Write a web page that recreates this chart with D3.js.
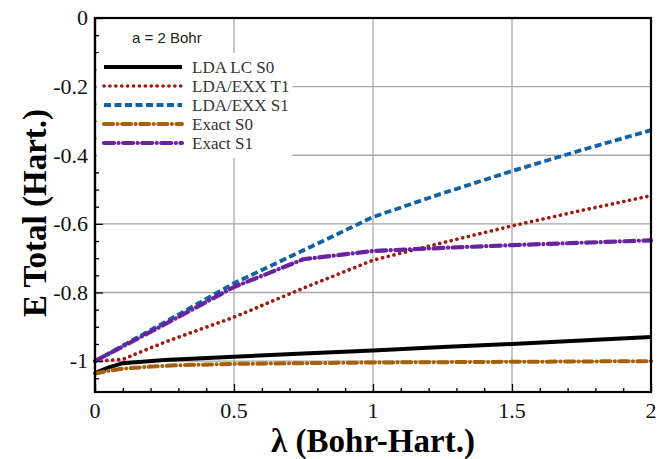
<!DOCTYPE html>
<html>
<head>
<meta charset="utf-8">
<script src="https://cdn.jsdelivr.net/npm/d3@7"></script>
<style>
    body { margin: 0; background: #fff; }
    svg { display: block; }
</style>
</head>
<body>
<svg id="chart" width="668" height="459"></svg>
<script>
"use strict";

// lambda (Bohr-Hart.) sample points
const lambdaLC = [0, 0.05, 0.1, 0.25, 0.5, 0.75, 1, 1.25, 1.5, 1.75, 2];
const ldaLcS0 = [-1.035, -1.018, -1.006, -0.997, -0.987, -0.978, -0.969, -0.959, -0.950, -0.940, -0.930];

const lambdaT1 = [0, 0.1, 0.15, 0.25, 0.5, 0.75, 1, 1.25, 1.5, 1.75, 2];
const ldaExxT1 = [-1.0, -0.995, -0.978, -0.945, -0.872, -0.787, -0.706, -0.655, -0.606, -0.561, -0.518];

const lambdaS1 = [0, 0.25, 0.5, 0.75, 1, 1.25, 1.5, 1.75, 2];
const ldaExxS1 = [-1.0, -0.887, -0.773, -0.677, -0.580, -0.511, -0.446, -0.385, -0.327];

const lambdaEx0 = [0, 0.05, 0.1, 0.2, 0.3, 0.5, 0.75, 1, 1.5, 2];
const exactS0 = [-1.036, -1.028, -1.022, -1.016, -1.012, -1.008, -1.006, -1.004, -1.002, -1.0];

const lambdaEx1 = [0, 0.25, 0.5, 0.75, 1, 1.25, 1.5, 1.75, 2];
const exactS1 = [-1.0, -0.893, -0.784, -0.703, -0.679, -0.670, -0.662, -0.655, -0.648];

const xTicks = [0, 0.5, 1, 1.5, 2];
const yTicks = [0, -0.2, -0.4, -0.6, -0.8, -1];

const seriesNames = ["LDA LC S0", "LDA/EXX T1", "LDA/EXX S1", "Exact S0", "Exact S1"];

let series = [
    { name: seriesNames[0], xs: lambdaLC, ys: ldaLcS0, color: "#000000", width: 4, dash: null, cap: "butt" },
    { name: seriesNames[1], xs: lambdaT1, ys: ldaExxT1, color: "#9c1a0e", width: 3.6, dash: "0.1 5.8", cap: "round" },
    { name: seriesNames[2], xs: lambdaS1, ys: ldaExxS1, color: "#0f62a6", width: 3.8, dash: "7 3.5", cap: "butt" },
    { name: seriesNames[3], xs: lambdaEx0, ys: exactS0, color: "#a5600c", width: 4, dash: "9 4.5 0.1 4.5", cap: "round" },
    { name: seriesNames[4], xs: lambdaEx1, ys: exactS1, color: "#6a239f", width: 4.2, dash: "10 4.5 0.1 4.5", cap: "round" }
];

let svg = d3.select("#chart");
let x = d3.scaleLinear().domain([0, 2]).range([95, 651]);
let y = d3.scaleLinear().domain([-1.09, 0]).range([392, 18]);

// plain hyphen for negative numbers, like the original
let fmt = d => String(d);

// grid lines
svg.append("g").selectAll("line.vgrid")
    .data(xTicks.slice(1, -1))
    .enter().append("line")
    .attr("x1", d => x(d)).attr("x2", d => x(d))
    .attr("y1", y.range()[1]).attr("y2", y.range()[0])
    .attr("stroke", "#a8a8a8").attr("stroke-width", 1.3);

svg.append("g").selectAll("line.hgrid")
    .data(yTicks.slice(1))
    .enter().append("line")
    .attr("x1", x.range()[0]).attr("x2", x.range()[1])
    .attr("y1", d => y(d)).attr("y2", d => y(d))
    .attr("stroke", "#a8a8a8").attr("stroke-width", 1.3);

// curves
let line = d3.line();
svg.append("g").selectAll("path.curve")
    .data(series)
    .enter().append("path")
    .attr("d", s => line(s.xs.map((v, i) => [x(v), y(s.ys[i])])))
    .attr("fill", "none")
    .attr("stroke", s => s.color)
    .attr("stroke-width", s => s.width)
    .attr("stroke-dasharray", s => s.dash)
    .attr("stroke-linecap", s => s.cap)
    .attr("stroke-linejoin", "round");

// axes (ticks pointing inward)
let xAxis = d3.axisTop(x).tickValues(d3.range(0, 2.001, 0.1)).tickSize(4).tickFormat("");
let gx = svg.append("g").attr("transform", "translate(0," + y.range()[0] + ")").call(xAxis);
gx.selectAll(".tick line").filter(d => Math.abs(d * 2 - Math.round(d * 2)) < 1e-6).attr("y2", -8);

let yAxis = d3.axisRight(y).tickValues(d3.range(0, -1.0901, -0.05)).tickSize(4).tickFormat("");
let gy = svg.append("g").attr("transform", "translate(" + x.range()[0] + ",0)").call(yAxis);
gy.selectAll(".tick line").filter(d => Math.abs(d * 5 - Math.round(d * 5)) < 1e-6).attr("x2", 8);

[gx, gy].forEach(g => {
    g.select(".domain").remove();
    g.selectAll(".tick line").attr("stroke", "#000").attr("stroke-width", 1.3);
});

// frame
svg.append("rect")
    .attr("x", x.range()[0]).attr("y", y.range()[1])
    .attr("width", x.range()[1] - x.range()[0])
    .attr("height", y.range()[0] - y.range()[1])
    .attr("fill", "none").attr("stroke", "#000").attr("stroke-width", 2.2);

// tick labels
svg.append("g").selectAll("text")
    .data(xTicks)
    .enter().append("text")
    .attr("x", d => x(d)).attr("y", 418)
    .attr("text-anchor", "middle")
    .attr("font-family", "Liberation Serif, Times New Roman, serif")
    .attr("font-size", 22).attr("fill", "#111")
    .text(fmt);

svg.append("g").selectAll("text")
    .data(yTicks)
    .enter().append("text")
    .attr("x", 88).attr("y", d => y(d)).attr("dy", "0.33em")
    .attr("text-anchor", "end")
    .attr("font-family", "Liberation Serif, Times New Roman, serif")
    .attr("font-size", 22).attr("fill", "#111")
    .text(fmt);

// axis titles
svg.append("text")
    .attr("x", 373).attr("y", 452)
    .attr("text-anchor", "middle")
    .attr("font-family", "Liberation Serif, Times New Roman, serif")
    .attr("font-weight", "bold").attr("font-size", 33)
    .text("λ (Bohr-Hart.)");

svg.append("text")
    .attr("transform", "translate(46,213) rotate(-90)")
    .attr("text-anchor", "middle")
    .attr("font-family", "Liberation Serif, Times New Roman, serif")
    .attr("font-weight", "bold").attr("font-size", 33)
    .text("E Total (Hart.)");

// legend
svg.append("text")
    .attr("x", 132).attr("y", 43)
    .attr("font-family", "Liberation Sans, Arial, sans-serif")
    .attr("font-size", 15).attr("fill", "#222")
    .text("a = 2 Bohr");

let legend = svg.append("g");
legend.append("rect")
    .attr("x", 96.5).attr("y", 53).attr("width", 196).attr("height", 105)
    .attr("fill", "#fff");

let rows = legend.selectAll("g.row")
    .data(series)
    .enter().append("g")
    .attr("transform", (d, i) => "translate(0," + (67 + i * 19) + ")");

rows.append("line")
    .attr("x1", 104).attr("x2", 182)
    .attr("stroke", s => s.color)
    .attr("stroke-width", s => s.width)
    .attr("stroke-dasharray", s => s.dash)
    .attr("stroke-linecap", s => s.cap);

rows.append("text")
    .attr("x", 192).attr("dy", "0.35em")
    .attr("font-family", "Liberation Serif, Times New Roman, serif")
    .attr("font-size", 17).attr("fill", "#333")
    .text(s => s.name);

// re-draw left frame edge over legend
svg.append("line")
    .attr("x1", x.range()[0]).attr("x2", x.range()[0])
    .attr("y1", y.range()[1]).attr("y2", y.range()[0])
    .attr("stroke", "#000").attr("stroke-width", 2.2);
</script>
</body>
</html>
